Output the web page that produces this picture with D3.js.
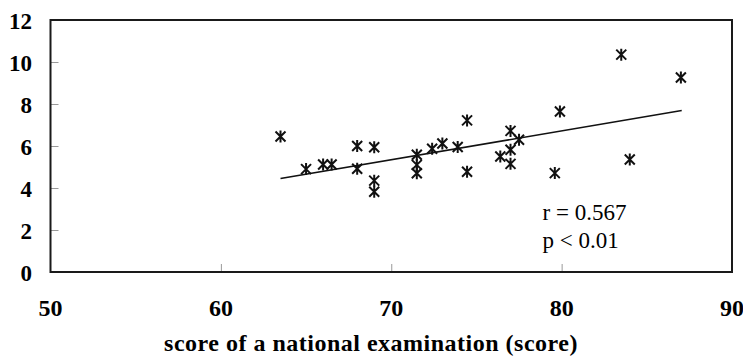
<!DOCTYPE html>
<html lang="en">
<head>
<meta charset="utf-8">
<style>
  body { margin: 0; background: #fff; }
  svg { display: block; }
</style>
</head>
<body>
<script src="https://cdn.jsdelivr.net/npm/d3@7"></script>
<script>

// data
var scoreX = [63.5, 65.0, 66.0, 66.5, 68.0, 68.0, 69.0, 69.0, 69.0, 71.5, 71.5, 71.5,
              72.4, 73.0, 73.9, 74.45, 74.45, 76.4, 77.0, 77.0, 77.0, 77.5, 79.6, 79.9,
              83.5, 84.0, 87.0];
var valueY = [6.45, 4.9, 5.12, 5.12, 6.0, 4.92, 5.94, 4.35, 3.82, 5.58, 5.1, 4.7,
              5.87, 6.12, 5.95, 7.22, 4.77, 5.5, 6.72, 5.82, 5.15, 6.3, 4.71, 7.64,
              10.35, 5.36, 9.26];
var fitX = [63.5, 87.05];
var fitY = [4.45, 7.69];
var xTicks = [50, 60, 70, 80, 90];
var yTicks = [0, 2, 4, 6, 8, 10, 12];
var notes = ["r = 0.567", "p < 0.01"];

var W = 743, H = 356;
var margin = {top: 20, right: 11, bottom: 84, left: 50.5},
    width = W - margin.left - margin.right,
    height = H - margin.top - margin.bottom;

var svg = d3.select("body").append("svg")
    .attr("width", W)
    .attr("height", H),
    g = svg.append("g").attr("transform", "translate(" + margin.left + "," + margin.top + ")");

var x = d3.scaleLinear().domain([50, 90]).range([0, width]);
var y = d3.scaleLinear().domain([0, 12]).range([height, 0]);

var serif = "'Liberation Serif', 'Times New Roman', serif";

// inner tick marks (light)
g.append("g")
  .attr("transform", "translate(0," + height + ")")
  .call(d3.axisBottom(x).tickValues(xTicks.slice(1, -1)).tickSize(-8).tickFormat(""))
  .call(function(a) { a.select(".domain").remove(); })
  .selectAll("line").attr("stroke", "#999").attr("stroke-width", 1);

g.append("g")
  .call(d3.axisLeft(y).tickValues(yTicks.slice(1, -1)).tickSize(-8).tickFormat(""))
  .call(function(a) { a.select(".domain").remove(); })
  .selectAll("line").attr("stroke", "#999").attr("stroke-width", 1);

// frame
g.append("rect")
  .attr("x", 0).attr("y", 0)
  .attr("width", width).attr("height", height)
  .attr("fill", "none")
  .attr("stroke", "#1a1a1a")
  .attr("stroke-width", 2);

// tick labels
svg.append("g")
  .attr("font-family", serif)
  .attr("font-weight", "bold")
  .attr("font-size", 23)
  .attr("text-anchor", "end")
  .selectAll("text")
  .data(yTicks)
  .enter().append("text")
  .attr("x", 32)
  .attr("y", function(d) { return margin.top + y(d) + 9; })
  .text(function(d) { return d; });

svg.append("g")
  .attr("font-family", serif)
  .attr("font-weight", "bold")
  .attr("font-size", 24)
  .attr("text-anchor", "middle")
  .selectAll("text")
  .data(xTicks)
  .enter().append("text")
  .attr("x", function(d) { return margin.left + x(d); })
  .attr("y", 316)
  .text(function(d) { return d; });

// axis title
svg.append("text")
  .attr("x", 371)
  .attr("y", 351)
  .attr("font-family", serif)
  .attr("font-weight", "bold")
  .attr("font-size", 24)
  .attr("letter-spacing", 0.5)
  .attr("text-anchor", "middle")
  .text("score of a national examination (score)");

// regression line
g.append("line")
  .attr("x1", x(fitX[0])).attr("y1", y(fitY[0]))
  .attr("x2", x(fitX[1])).attr("y2", y(fitY[1]))
  .attr("stroke", "#111")
  .attr("stroke-width", 1.6);

// asterisk markers
var pts = scoreX.map(function(v, i) { return [v, valueY[i]]; });
var r = 5;
g.append("g")
  .attr("stroke", "#111")
  .attr("stroke-width", 2)
  .attr("fill", "none")
  .selectAll("path")
  .data(pts)
  .enter().append("path")
  .attr("transform", function(d) { return "translate(" + x(d[0]) + "," + y(d[1]) + ")"; })
  .attr("d", "M" + (-r) + "," + (-r) + "L" + r + "," + r +
             "M" + (-r) + "," + r + "L" + r + "," + (-r) +
             "M0," + (-r - 1) + "L0," + (r + 1));

// r / p annotation
g.append("g")
  .attr("font-family", serif)
  .attr("font-size", 23)
  .selectAll("text")
  .data(notes)
  .enter().append("text")
  .attr("x", 492)
  .attr("y", function(d, i) { return 200 + i * 28; })
  .text(function(d) { return d; });

</script>
</body>
</html>
